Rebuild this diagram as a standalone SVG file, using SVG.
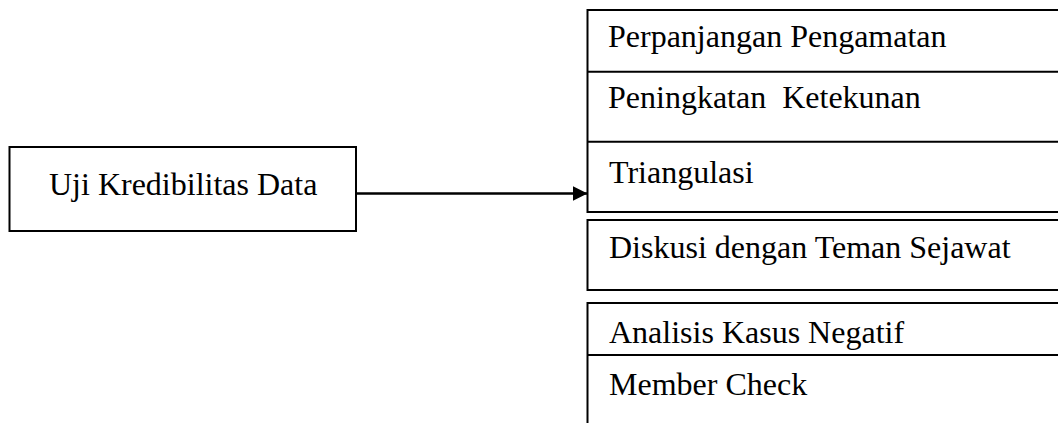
<svg xmlns="http://www.w3.org/2000/svg" width="1058" height="423" viewBox="0 0 1058 423">
<defs>
<style>
.box{fill:#fff;stroke:#000;stroke-width:2}
.ln{fill:none;stroke:#000;stroke-width:2}
.t{font-family:"Liberation Serif","Times New Roman",serif;font-size:32px;fill:#000;white-space:pre}
.conn{fill:none;stroke:#000;stroke-width:2.4}
</style>
<marker id="ah" viewBox="0 0 15 15" refX="15" refY="7.5" markerWidth="15" markerHeight="15" markerUnits="userSpaceOnUse" orient="auto">
<path d="M0,0 L15,7.5 L0,15 Z" fill="#000"/>
</marker>
</defs>
<rect width="1058" height="423" fill="#fff"/>
<g id="node-uji">
<rect class="box" x="9.5" y="147" width="346.5" height="84"/>
<text class="t" x="49" y="195">Uji Kredibilitas Data</text>
</g>
<g id="group-1">
<rect class="box" x="587.5" y="10" width="480" height="202"/>
<line class="ln" x1="587.5" y1="71.7" x2="1060" y2="71.7"/>
<line class="ln" x1="587.5" y1="141.7" x2="1060" y2="141.7"/>
</g>
<g id="node-perpanjangan">
<text class="t" x="608" y="47.3">Perpanjangan Pengamatan</text>
</g>
<g id="node-peningkatan">
<text class="t" x="608" y="108.3" xml:space="preserve">Peningkatan  Ketekunan</text>
</g>
<g id="node-triangulasi">
<text class="t" x="609" y="183.3">Triangulasi</text>
</g>
<g id="node-diskusi">
<rect class="box" x="587.5" y="220" width="480" height="70"/>
<text class="t" x="609" y="258.3">Diskusi dengan Teman Sejawat</text>
</g>
<g id="group-3">
<path class="ln" d="M1060,303 L587.5,303 L587.5,430"/>
<line class="ln" x1="587.5" y1="355" x2="1060" y2="355"/>
</g>
<g id="node-analisis">
<text class="t" x="609" y="342.7">Analisis Kasus Negatif</text>
</g>
<g id="node-member">
<text class="t" x="609" y="395">Member Check</text>
</g>
<g id="connectors">
<line class="conn" x1="356" y1="193.5" x2="587.5" y2="193.5" marker-end="url(#ah)"/>
</g>
</svg>
